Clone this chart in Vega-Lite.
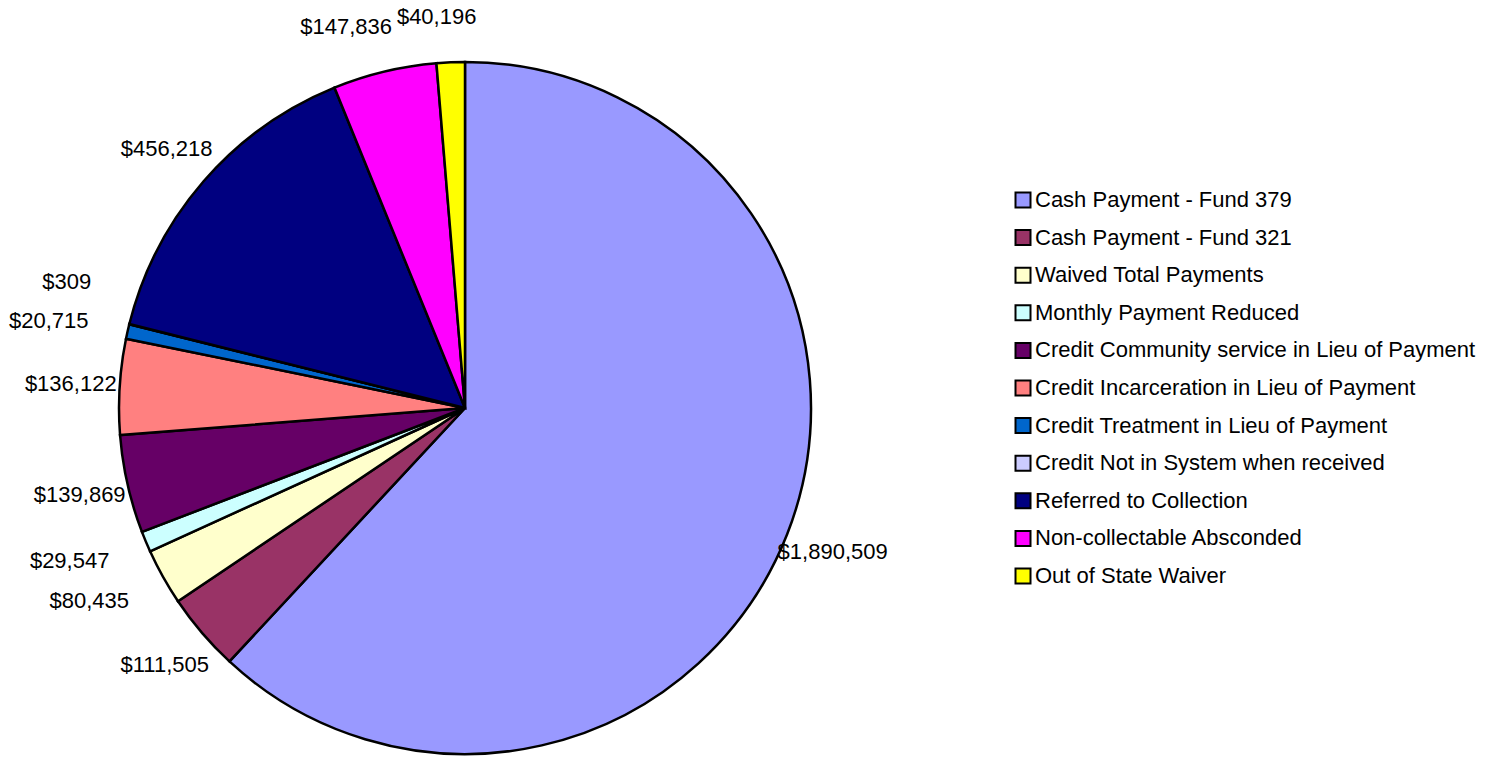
{
  "$schema": "https://vega.github.io/schema/vega-lite/v6.json",
  "width": 930,
  "height": 724,
  "autosize": {"type": "none"},
  "padding": {"left": 0, "top": 46, "right": 561, "bottom": 2},
  "background": "white",
  "view": {"stroke": null},
  "data": {
    "values": [
      {"i": 1, "cat": "Cash Payment - Fund 379", "value": 1890509},
      {"i": 2, "cat": "Cash Payment - Fund 321", "value": 111505},
      {"i": 3, "cat": "Waived Total Payments", "value": 80435},
      {"i": 4, "cat": "Monthly Payment Reduced", "value": 29547},
      {"i": 5, "cat": "Credit Community service in Lieu of Payment", "value": 139869},
      {"i": 6, "cat": "Credit Incarceration in Lieu of Payment", "value": 136122},
      {"i": 7, "cat": "Credit Treatment in Lieu of Payment", "value": 20715},
      {"i": 8, "cat": "Credit Not in System when received", "value": 309},
      {"i": 9, "cat": "Referred to Collection", "value": 456218},
      {"i": 10, "cat": "Non-collectable Absconded", "value": 147836},
      {"i": 11, "cat": "Out of State Waiver", "value": 40196}
    ]
  },
  "encoding": {
    "theta": {"field": "value", "type": "quantitative", "stack": true},
    "order": {"field": "i", "type": "quantitative", "sort": "ascending"}
  },
  "layer": [
    {
      "mark": {"type": "arc", "outerRadius": 346, "stroke": "black", "strokeWidth": 2.5},
      "encoding": {
        "color": {
          "field": "cat",
          "type": "nominal",
          "sort": null,
          "scale": {
            "domain": ["Cash Payment - Fund 379", "Cash Payment - Fund 321", "Waived Total Payments", "Monthly Payment Reduced", "Credit Community service in Lieu of Payment", "Credit Incarceration in Lieu of Payment", "Credit Treatment in Lieu of Payment", "Credit Not in System when received", "Referred to Collection", "Non-collectable Absconded", "Out of State Waiver"],
            "range": ["#9999FF", "#993366", "#FFFFCC", "#CCFFFF", "#660066", "#FF8080", "#0066CC", "#CCCCFF", "#000080", "#FF00FF", "#FFFF00"]
          },
          "legend": {
            "title": null,
            "orient": "none",
            "legendX": 1012,
            "legendY": 143,
            "symbolType": "square",
            "symbolSize": 225,
            "symbolStrokeColor": "black",
            "symbolStrokeWidth": 2,
            "labelFont": "Liberation Sans",
            "labelFontSize": 22,
            "labelColor": "black",
            "labelLimit": 700,
            "labelOffset": 1,
            "rowPadding": 13.6,
            "padding": 0
          }
        }
      }
    },
    {
      "mark": {"type": "text", "radius": 395, "font": "Liberation Sans", "fontSize": 22, "color": "black"},
      "encoding": {
        "text": {
          "condition": {"test": "datum.i != 3 && datum.i != 4 && datum.i != 7 && datum.i != 8 && datum.i != 10 && datum.i != 11", "field": "value", "type": "quantitative", "format": "$,.0f"},
          "value": ""
        }
      }
    },
    {
      "mark": {"type": "text", "radius": 395, "dx": -31, "font": "Liberation Sans", "fontSize": 22, "color": "black"},
      "encoding": {
        "text": {
          "condition": {"test": "datum.i == 3 || datum.i == 4 || datum.i == 7", "field": "value", "type": "quantitative", "format": "$,.0f"},
          "value": ""
        }
      }
    },
    {
      "mark": {"type": "text", "radius": 395, "dx": -15, "dy": -30, "font": "Liberation Sans", "fontSize": 22, "color": "black"},
      "encoding": {
        "text": {
          "condition": {"test": "datum.i == 8", "field": "value", "type": "quantitative", "format": "$,.0f"},
          "value": ""
        }
      }
    },
    {
      "mark": {"type": "text", "radius": 395, "dx": -27, "dy": 3, "font": "Liberation Sans", "fontSize": 22, "color": "black"},
      "encoding": {
        "text": {
          "condition": {"test": "datum.i == 10", "field": "value", "type": "quantitative", "format": "$,.0f"},
          "value": ""
        }
      }
    },
    {
      "mark": {"type": "text", "radius": 395, "dx": -12, "dy": 4, "font": "Liberation Sans", "fontSize": 22, "color": "black"},
      "encoding": {
        "text": {
          "condition": {"test": "datum.i == 11", "field": "value", "type": "quantitative", "format": "$,.0f"},
          "value": ""
        }
      }
    }
  ]
}
